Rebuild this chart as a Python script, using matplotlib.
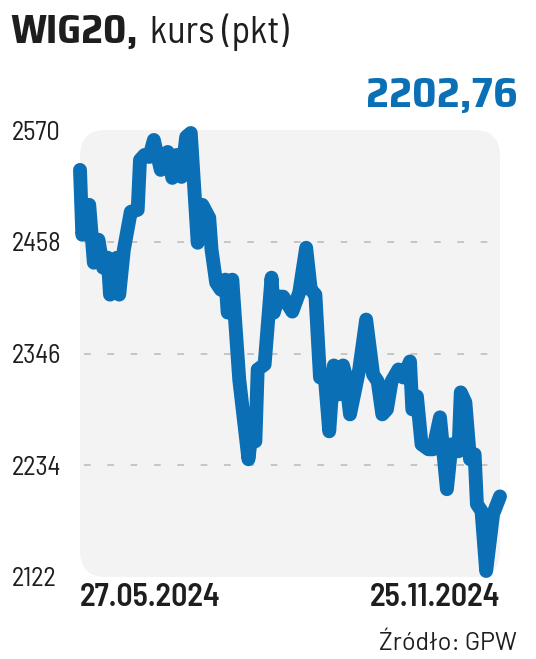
import matplotlib
matplotlib.use("Agg")
import matplotlib.pyplot as plt
from matplotlib.patches import FancyBboxPatch
import pandas as pd

# WIG20 close
dates = ["2024-05-27", "2024-05-28", "2024-05-31", "2024-06-02", "2024-06-04",
         "2024-06-06", "2024-06-08", "2024-06-09", "2024-06-12", "2024-06-13",
         "2024-06-15", "2024-06-18", "2024-06-21", "2024-06-22", "2024-06-24",
         "2024-06-26", "2024-06-28", "2024-07-01", "2024-07-04", "2024-07-06",
         "2024-07-08", "2024-07-10", "2024-07-12", "2024-07-14", "2024-07-17",
         "2024-07-19", "2024-07-22", "2024-07-23", "2024-07-25", "2024-07-27",
         "2024-07-29", "2024-07-30", "2024-08-01", "2024-08-04", "2024-08-08",
         "2024-08-09", "2024-08-11", "2024-08-12", "2024-08-15", "2024-08-18",
         "2024-08-19", "2024-08-21", "2024-08-23", "2024-08-27", "2024-08-30",
         "2024-09-02", "2024-09-04", "2024-09-06", "2024-09-08", "2024-09-10",
         "2024-09-12", "2024-09-14", "2024-09-16", "2024-09-18", "2024-09-19",
         "2024-09-21", "2024-09-25", "2024-09-28", "2024-10-01", "2024-10-03",
         "2024-10-05", "2024-10-07", "2024-10-09", "2024-10-12", "2024-10-14",
         "2024-10-17", "2024-10-18", "2024-10-20", "2024-10-22", "2024-10-25",
         "2024-10-27", "2024-10-30", "2024-11-02", "2024-11-04", "2024-11-07",
         "2024-11-08", "2024-11-10", "2024-11-12", "2024-11-14", "2024-11-15",
         "2024-11-17", "2024-11-19", "2024-11-22", "2024-11-25"]
values = [2530, 2465, 2495, 2437, 2460,
          2432, 2442, 2405, 2442, 2405,
          2450, 2488, 2490, 2540, 2545,
          2543, 2560, 2530, 2548, 2522,
          2545, 2523, 2563, 2567, 2457,
          2495, 2482, 2450, 2417, 2410,
          2420, 2387, 2420, 2320, 2240,
          2260, 2258, 2330, 2335, 2422,
          2387, 2403, 2403, 2388, 2407,
          2452, 2410, 2405, 2322, 2325,
          2268, 2334, 2305, 2334, 2325,
          2285, 2330, 2380, 2325, 2318,
          2285, 2290, 2318, 2330, 2322,
          2338, 2290, 2303, 2255, 2250,
          2250, 2282, 2210, 2255, 2248,
          2307, 2297, 2240, 2245, 2195,
          2188, 2128, 2185, 2202.76]
yticks = [2122, 2234, 2346, 2458, 2570]
xlabels = ["27.05.2024", "25.11.2024"]
last_value = "2202,76"

blue = "#0b6fb5"
dark = "#1e1e1e"
semi = ["Barlow Semi Condensed", "DejaVu Sans"]
wide = ["Barlow", "DejaVu Sans"]
head = ["Saira SemiCondensed", "DejaVu Sans"]

x = pd.to_datetime(dates)

fig = plt.figure(figsize=(5.36, 6.59), dpi=100)
W, H = 536, 659
ax = fig.add_axes([80 / W, (H - 577) / H, 420 / W, 447 / H])
ax.patch.set_visible(False)
for s in ax.spines.values():
    s.set_visible(False)

bg = FancyBboxPatch((0, 0), 1, 1, boxstyle="round,pad=0,rounding_size=0.06",
                    transform=ax.transAxes, facecolor="#f3f3f3", edgecolor="none",
                    zorder=0, clip_on=False)
ax.add_patch(bg)

for yv in yticks[1:-1]:
    ax.plot([0.01, 0.99], [yv, yv], transform=ax.get_yaxis_transform(),
            color="#bdbdbd", lw=1.2, dashes=(4, 10), zorder=1)

ax.plot(x, values, color=blue, lw=10, solid_joinstyle="round",
        solid_capstyle="round", clip_on=False, zorder=3)

ax.set_xlim(x[0], x[-1])
ax.set_ylim(yticks[0], yticks[-1])

ax.set_yticks(yticks)
ax.set_yticklabels([str(v) for v in yticks], family=semi, fontsize=19, color=dark)
for lab in ax.get_yticklabels():
    lab.set_horizontalalignment("left")
ax.tick_params(axis="y", length=0, pad=49)

ax.set_xticks([x[0], x[-1]])
ax.set_xticklabels(xlabels, family=semi, fontsize=23, fontweight="semibold", color=dark)
xl = ax.get_xticklabels()
xl[0].set_horizontalalignment("left")
xl[1].set_horizontalalignment("right")
ax.tick_params(axis="x", length=0, pad=4)

fig.text(10 / W, 1 - 32 / H, "WIG20,", family=head,
         fontsize=29.5, fontweight="bold", color=dark, va="center", ha="left")
fig.text(150 / W, 1 - 32 / H, "kurs (pkt)", family=semi, fontsize=27.5,
         color=dark, va="center", ha="left")
fig.text(518 / W, 1 - 95 / H, last_value, family=head,
         fontsize=31, fontweight="bold", color=blue, va="center", ha="right")
fig.text(517 / W, 1 - 643 / H, "Źródło: GPW", family=wide, fontsize=18,
         color=dark, va="center", ha="right")

fig.savefig("out.png", dpi=100)
